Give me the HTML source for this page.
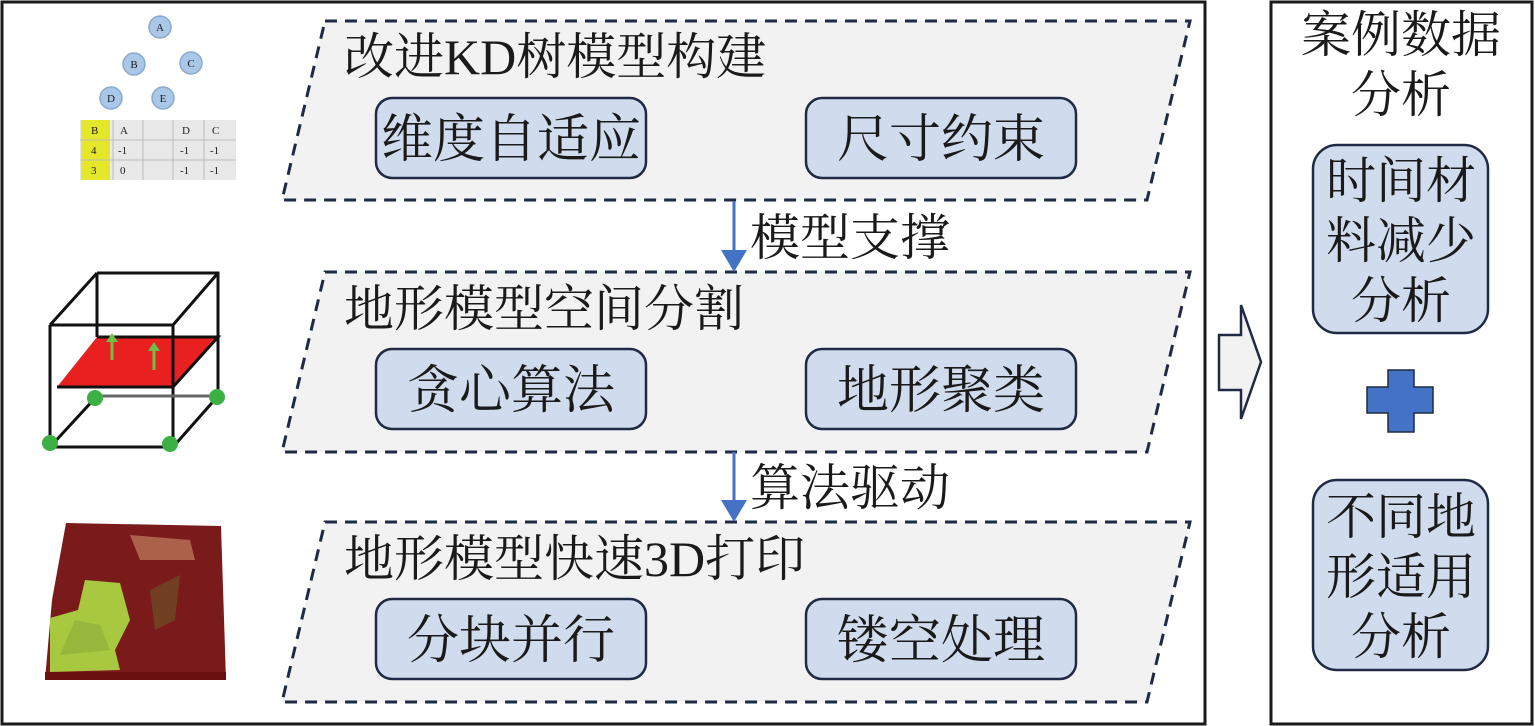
<!DOCTYPE html>
<html><head><meta charset="utf-8"><style>
html,body{margin:0;padding:0;background:#fff}
svg{display:block}
text{font-family:"Liberation Serif","Noto Serif CJK SC",serif;fill:#1a1a1a}
</style></head><body>
<svg width="1535" height="726" viewBox="0 0 1535 726" xmlns="http://www.w3.org/2000/svg">
<rect x="2" y="2" width="1203" height="722" fill="#fff" stroke="#1a1a1a" stroke-width="3"/>
<rect x="1271" y="2" width="261" height="722" fill="#fff" stroke="#1a1a1a" stroke-width="3"/>

<g fill="#f2f2f2" stroke="#1f2a44" stroke-width="3" stroke-dasharray="12,8">
<polygon points="325,21 1190,21 1147,200 282,200"/>
<polygon points="325,272 1190,272 1147,452 282,452"/>
<polygon points="325,522 1190,522 1147,702 282,702"/>
</g>
<g font-size="50">
<text x="344" y="74">改进KD树模型构建</text>
<text x="344" y="326">地形模型空间分割</text>
<text x="344" y="576">地形模型快速3D打印</text>
</g>
<g fill="#d0dcee" stroke="#1f2a44" stroke-width="2.5">
<rect x="376" y="98" width="270" height="80" rx="16"/>
<rect x="806" y="98" width="270" height="80" rx="16"/>
<rect x="376" y="349" width="270" height="80" rx="16"/>
<rect x="806" y="349" width="270" height="80" rx="16"/>
<rect x="376" y="599" width="270" height="80" rx="16"/>
<rect x="806" y="599" width="270" height="80" rx="16"/>
</g>
<g font-size="52" text-anchor="middle">
<text x="511" y="157">维度自适应</text>
<text x="941" y="157">尺寸约束</text>
<text x="511" y="408">贪心算法</text>
<text x="941" y="408">地形聚类</text>
<text x="511" y="658">分块并行</text>
<text x="941" y="658">镂空处理</text>
</g>

<g stroke="#4472c4" stroke-width="3"><line x1="734" y1="201" x2="734" y2="252"/><line x1="734" y1="452" x2="734" y2="502"/></g>
<g fill="#4472c4"><polygon points="721,250 747,250 734,272"/><polygon points="721,500 747,500 734,522"/></g>
<g font-size="50"><text x="750" y="255">模型支撑</text><text x="750" y="505">算法驱动</text></g>

<polygon points="1219,335 1241,335 1241,305 1261,362 1241,419 1241,390 1219,390" fill="#f2f2f2" stroke="#1f2a44" stroke-width="2.5"/>

<g font-size="50" text-anchor="middle">
<text x="1401" y="52">案例数据</text><text x="1401" y="112">分析</text>
</g>
<g fill="#d0dcee" stroke="#1f2a44" stroke-width="2.5">
<rect x="1313" y="145" width="175" height="188" rx="24"/>
<rect x="1313" y="480" width="175" height="190" rx="24"/>
</g>
<g font-size="50" text-anchor="middle">
<text x="1401" y="198">时间材</text><text x="1401" y="258">料减少</text><text x="1401" y="318">分析</text>
<text x="1401" y="534">不同地</text><text x="1401" y="594">形适用</text><text x="1401" y="654">分析</text>
</g>
<polygon points="1388,370 1414,370 1414,387 1433,387 1433,413 1414,413 1414,432 1388,432 1388,413 1367,413 1367,387 1388,387" fill="#4472c4" stroke="#1f2a44" stroke-width="1.5"/>

<g fill="#a9c8e8" stroke="#8aa9cc" stroke-width="1.5">
<circle cx="160" cy="27" r="11"/><circle cx="134" cy="64" r="11"/><circle cx="191" cy="63" r="11"/>
<circle cx="111" cy="98" r="11"/><circle cx="163" cy="98" r="11"/>
</g>
<g font-size="11" text-anchor="middle" fill="#555" style="font-family:'Liberation Sans',sans-serif">
<text x="160" y="31">A</text><text x="134" y="68">B</text><text x="191" y="67">C</text><text x="111" y="102">D</text><text x="163" y="102">E</text>
</g>
<rect x="80" y="120" width="156" height="60" fill="#e8e8e8"/>
<rect x="81" y="120" width="29" height="60" fill="#e5e82a"/>
<g stroke="#bbb" stroke-width="1"><line x1="80" y1="140" x2="236" y2="140"/><line x1="80" y1="160" x2="236" y2="160"/>
<line x1="113" y1="120" x2="113" y2="180"/><line x1="143" y1="120" x2="143" y2="180"/><line x1="173" y1="120" x2="173" y2="180"/><line x1="204" y1="120" x2="204" y2="180"/></g>
<g font-size="11" fill="#777" style="font-family:'Liberation Sans',sans-serif">
<text x="91" y="134">B</text><text x="120" y="134">A</text><text x="182" y="134">D</text><text x="212" y="134">C</text>
<text x="91" y="154">4</text><text x="118" y="154">-1</text><text x="180" y="154">-1</text><text x="210" y="154">-1</text>
<text x="91" y="174">3</text><text x="120" y="174">0</text><text x="180" y="174">-1</text><text x="210" y="174">-1</text>
</g>

<polygon points="57,387 173,387 218,337 97,337" fill="#e82020"/>
<g stroke="#111" stroke-width="3" fill="none">
<polyline points="50,325 173,325 173,447 50,447 50,325"/>
<polyline points="97,273 218,273 218,396"/>
<line x1="97" y1="273" x2="97" y2="337"/>
<line x1="50" y1="325" x2="97" y2="273"/><line x1="173" y1="325" x2="218" y2="273"/>
<line x1="50" y1="447" x2="97" y2="396"/><line x1="173" y1="447" x2="218" y2="396"/>
<polyline points="57,387 173,387 218,337 97,337"/>
</g>
<line x1="97" y1="396" x2="218" y2="396" stroke="#666" stroke-width="3"/>
<g stroke="#6cc04a" stroke-width="3"><line x1="112" y1="360" x2="112" y2="336"/><line x1="154" y1="370" x2="154" y2="345"/></g>
<g fill="#6cc04a"><polygon points="106,342 118,342 112,333"/><polygon points="148,351 160,351 154,342"/></g>
<g fill="#3cb043"><circle cx="95" cy="398" r="8"/><circle cx="217" cy="397" r="8"/><circle cx="50" cy="443" r="8"/><circle cx="170" cy="444" r="8"/></g>

<polygon points="66,523 221,526 226,680 45,680 52,600" fill="#7a1a1a"/>
<polygon points="50,618 78,610 85,580 120,583 130,620 115,650 120,670 50,672" fill="#a8c840"/>
<polygon points="75,620 100,625 110,650 60,655" fill="#8fae3a" opacity="0.7"/>
<polygon points="130,535 190,540 195,560 140,560" fill="#c08060" opacity="0.7"/>
<polygon points="150,590 180,575 175,620 155,630" fill="#6a5a2a" opacity="0.6"/>
<rect x="45" y="672" width="181" height="8" fill="#6a1010"/>
</svg>
</body></html>
